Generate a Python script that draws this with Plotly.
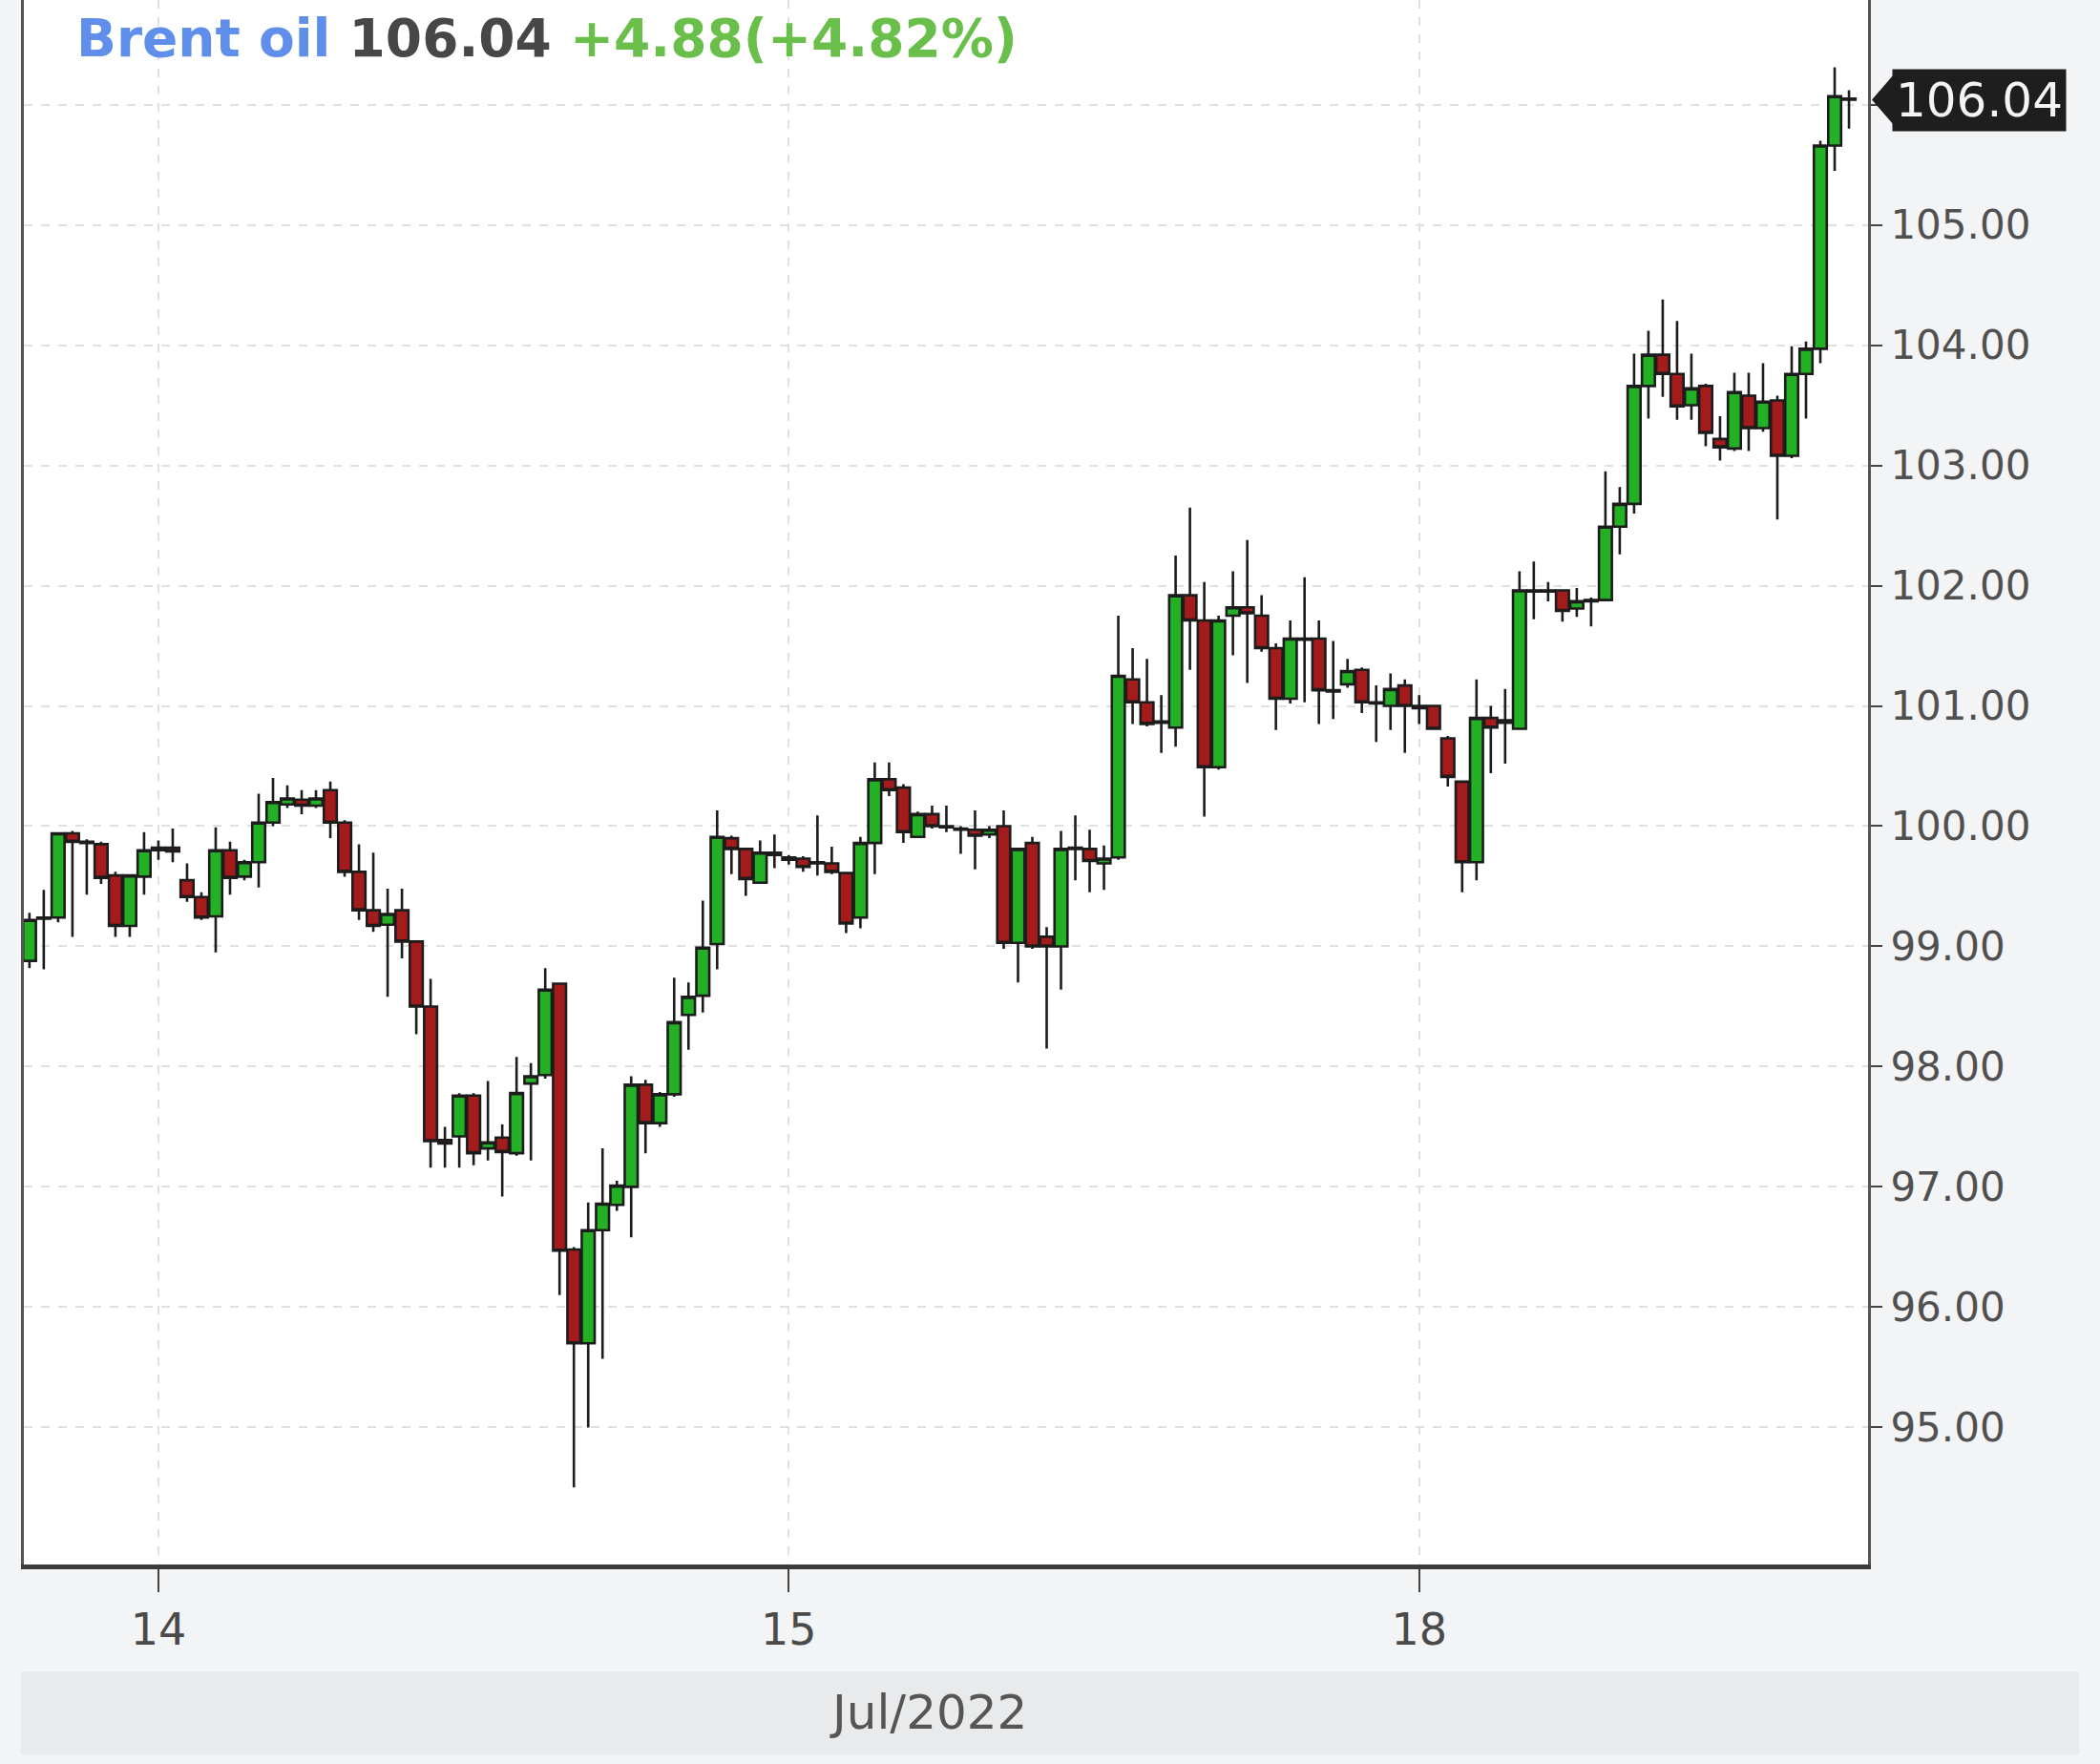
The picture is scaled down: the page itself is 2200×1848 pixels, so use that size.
import plotly.graph_objects as go

# 30-minute Brent oil bars, 13 Jul (tail) to 18 Jul 2022
opens = [98.88, 99.23, 99.24, 99.94, 99.87, 99.85, 99.59, 99.17, 99.58, 99.80,
         99.82, 99.55, 99.41, 99.25, 99.80, 99.58, 99.70, 100.03, 100.18, 100.22,
         100.17, 100.30, 100.03, 99.62, 99.30, 99.18, 99.30, 99.04, 98.50, 97.39,
         97.42, 97.76, 97.32, 97.41, 97.28, 97.86, 97.93, 98.69, 96.48, 95.70,
         96.64, 96.85, 97.00, 97.85, 97.53, 97.77, 98.43, 98.59, 99.02, 99.90,
         99.81, 99.53, 99.76, 99.74, 99.73, 99.70, 99.69, 99.61, 99.24, 99.86,
         100.39, 100.32, 99.91, 100.10, 100.00, 99.98, 99.97, 99.93, 100.00, 99.03,
         99.86, 99.08, 99.00, 99.81, 99.81, 99.69, 99.74, 101.22, 101.03, 100.87,
         100.82, 101.92, 101.71, 100.49, 101.75, 101.82, 101.75, 101.48, 101.06, 101.56,
         101.56, 101.13, 101.18, 101.30, 101.03, 101.00, 101.17, 101.00, 101.00, 100.73,
         100.37, 99.70, 100.90, 100.86, 100.81, 101.96, 101.95, 101.96, 101.81, 101.87,
         101.88, 102.49, 102.68, 103.66, 103.92, 103.76, 103.50, 103.66, 103.22, 103.14,
         103.58, 103.31, 103.54, 103.08, 103.76, 103.97, 105.66, 106.05]
highs = [99.28, 99.47, 99.95, 99.96, 99.89, 99.87, 99.62, 99.60, 99.95, 99.88,
         99.98, 99.69, 99.45, 99.99, 99.87, 99.72, 100.27, 100.40, 100.34, 100.30,
         100.30, 100.37, 100.05, 99.85, 99.78, 99.48, 99.48, 99.05, 98.73, 97.50,
         97.78, 97.78, 97.88, 97.52, 98.08, 98.03, 98.82, 98.70, 96.50, 96.87,
         97.32, 97.05, 97.92, 97.89, 97.79, 98.74, 98.70, 99.38, 100.13, 99.92,
         99.82, 99.88, 99.93, 99.76, 99.75, 100.09, 99.83, 99.62, 99.91, 100.53,
         100.53, 100.35, 100.12, 100.17, 100.17, 100.00, 100.13, 100.00, 100.13, 99.82,
         99.91, 99.16, 99.96, 100.09, 99.97, 99.84, 101.75, 101.48, 101.39, 101.09,
         102.25, 102.65, 102.03, 101.75, 102.12, 102.38, 101.92, 101.52, 101.71, 102.07,
         101.71, 101.54, 101.39, 101.32, 101.17, 101.27, 101.22, 101.09, 101.00, 100.75,
         100.37, 101.22, 101.00, 101.14, 102.12, 102.20, 102.03, 101.97, 101.98, 101.90,
         102.95, 102.82, 103.93, 104.12, 104.38, 104.20, 103.93, 103.68, 103.41, 103.77,
         103.77, 103.85, 103.58, 103.99, 104.03, 105.70, 106.31, 106.12]
lows = [98.82, 98.81, 99.20, 99.08, 99.43, 99.52, 99.08, 99.08, 99.43, 99.72,
        99.70, 99.37, 99.22, 98.95, 99.43, 99.55, 99.49, 100.00, 100.15, 100.10,
        100.15, 99.90, 99.58, 99.22, 99.12, 98.58, 98.90, 98.27, 97.16, 97.16,
        97.16, 97.18, 97.22, 96.92, 97.26, 97.22, 97.90, 96.10, 94.50, 95.00,
        95.57, 96.80, 96.58, 97.28, 97.50, 97.75, 98.14, 98.45, 98.81, 99.60,
        99.42, 99.52, 99.65, 99.68, 99.62, 99.59, 99.60, 99.11, 99.15, 99.60,
        100.25, 99.86, 99.90, 99.98, 99.95, 99.77, 99.64, 99.90, 98.98, 98.70,
        98.98, 98.15, 98.64, 99.55, 99.45, 99.47, 99.72, 100.85, 100.83, 100.61,
        100.66, 101.30, 100.08, 100.47, 101.42, 101.19, 101.45, 100.80, 101.02, 101.03,
        100.85, 100.89, 101.15, 100.94, 100.70, 100.80, 100.61, 100.85, 100.80, 100.33,
        99.45, 99.55, 100.44, 100.52, 100.80, 101.72, 101.87, 101.70, 101.74, 101.66,
        101.87, 102.26, 102.60, 103.39, 103.57, 103.38, 103.38, 103.16, 103.04, 103.12,
        103.12, 103.28, 102.55, 103.06, 103.39, 103.85, 105.45, 105.80]
closes = [99.22, 99.24, 99.94, 99.87, 99.86, 99.57, 99.17, 99.59, 99.80, 99.82,
          99.79, 99.41, 99.24, 99.80, 99.57, 99.70, 100.03, 100.20, 100.23, 100.17,
          100.23, 100.03, 99.62, 99.30, 99.17, 99.27, 99.04, 98.50, 97.38, 97.36,
          97.76, 97.28, 97.37, 97.29, 97.78, 97.92, 98.64, 96.47, 95.70, 96.64,
          96.86, 97.01, 97.85, 97.53, 97.77, 98.37, 98.58, 98.99, 99.91, 99.81,
          99.56, 99.78, 99.78, 99.72, 99.66, 99.69, 99.62, 99.19, 99.86, 100.39,
          100.30, 99.95, 100.10, 100.00, 99.99, 99.97, 99.92, 99.97, 99.03, 99.81,
          99.00, 99.00, 99.81, 99.82, 99.71, 99.73, 101.25, 101.03, 100.85, 100.86,
          101.92, 101.71, 100.49, 101.71, 101.82, 101.77, 101.48, 101.06, 101.56, 101.55,
          101.13, 101.12, 101.29, 101.03, 101.02, 101.14, 101.00, 100.98, 100.81, 100.41,
          99.70, 100.90, 100.82, 100.88, 101.96, 101.95, 101.96, 101.79, 101.87, 101.88,
          102.49, 102.68, 103.66, 103.92, 103.76, 103.49, 103.64, 103.27, 103.15, 103.61,
          103.31, 103.53, 103.08, 103.76, 103.97, 105.66, 106.07, 106.04]

day_start_idx = [9, 53, 97]
day_labels = ["14", "15", "18"]
y_ticks = [95, 96, 97, 98, 99, 100, 101, 102, 103, 104, 105, 106]
y_labels = ["95.00", "96.00", "97.00", "98.00", "99.00", "100.00", "101.00",
            "102.00", "103.00", "104.00", "105.00", ""]
instrument = "Brent oil"
change = "+4.88(+4.82%)"
month_label = "Jul/2022"

x = list(range(len(closes)))
last = closes[-1]

FONT = "DejaVu Sans"
W, H = 2200, 1848
ML, MR, MT, MB = 25, 243, 0, 209
PW = W - ML - MR
PH = H - MT - MB

fig = go.Figure(go.Candlestick(
    x=x, open=opens, high=highs, low=lows, close=closes,
    increasing=dict(fillcolor="#24b024", line=dict(color="#1c1c1c", width=2.6)),
    decreasing=dict(fillcolor="#a31b1b", line=dict(color="#1c1c1c", width=2.6)),
    whiskerwidth=0, hoverinfo="skip", showlegend=False,
))

def px_to_paper_x(p):
    return (p - ML) / PW

def px_to_paper_y(p):
    return 1 - (p - MT) / PH

fig.update_layout(
    width=W, height=H,
    margin=dict(l=ML, r=MR, t=MT, b=MB),
    paper_bgcolor="#f3f4f6", plot_bgcolor="#ffffff",
    font=dict(family=FONT, color="#4a4a4a", size=40),
    showlegend=False,
    boxgap=0.05, boxgroupgap=0.05,
    xaxis=dict(
        range=[-0.39, 128.33], rangeslider=dict(visible=False),
        tickvals=day_start_idx, ticktext=day_labels,
        ticks="outside", ticklen=24, tickwidth=2, tickcolor="#444",
        showline=True, linecolor="#3c3c3c", linewidth=5,
        showgrid=True, gridcolor="#e0e0e0", griddash="dash", gridwidth=2,
        tickfont=dict(size=46, color="#4a4a4a"), zeroline=False,
    ),
    yaxis=dict(
        side="right", range=[93.86, 106.87],
        tickvals=y_ticks, ticktext=y_labels,
        ticks="outside", ticklen=12, tickwidth=2, tickcolor="#444",
        showline=True, linecolor="#555", linewidth=3, mirror=True,
        showgrid=True, gridcolor="#e0e0e0", griddash="dash", gridwidth=2,
        tickfont=dict(size=42, color="#505050"), zeroline=False,
    ),
)

# header
fig.add_annotation(
    xref="paper", yref="paper",
    x=px_to_paper_x(78), y=px_to_paper_y(40), xanchor="left", yanchor="middle",
    showarrow=False,
    text=(f"<b><span style='color:#5f8fea'>{instrument}</span> "
          f"<span style='color:#474747'>{last:.2f}</span> "
          f"<span style='color:#6abf4b'>{change}</span></b>"),
    font=dict(size=55, family=FONT),
)

# last-price tag
fig.add_shape(type="path", xref="paper", yref="y",
              path=(f"M {px_to_paper_x(1961)},{last} "
                    f"L {px_to_paper_x(1984)},{last + 0.21} "
                    f"L {px_to_paper_x(1984)},{last - 0.21} Z"),
              fillcolor="#1e1e1e", line=dict(width=0), layer="above")
fig.add_annotation(
    xref="paper", yref="y", x=px_to_paper_x(1982), y=last,
    xanchor="left", yanchor="middle", showarrow=False,
    text=f"{last:.2f}", bgcolor="#1e1e1e", borderpad=3,
    font=dict(size=50, color="#f4f4f4", family=FONT),
)

# month band
fig.add_shape(type="rect", xref="paper", yref="paper",
              x0=px_to_paper_x(22), x1=px_to_paper_x(2178),
              y0=px_to_paper_y(1838), y1=px_to_paper_y(1751),
              fillcolor="#e9eaec", line=dict(width=0), layer="below")
fig.add_annotation(
    xref="paper", yref="paper", x=px_to_paper_x(972), y=px_to_paper_y(1794),
    xanchor="center", yanchor="middle", showarrow=False,
    text=month_label, font=dict(size=50, color="#555555", family=FONT),
)

fig.write_html(
    "out.html",
    config={"displayModeBar": False},
    post_script="document.body.style.margin='0';document.body.style.background='#f3f4f6';",
)
